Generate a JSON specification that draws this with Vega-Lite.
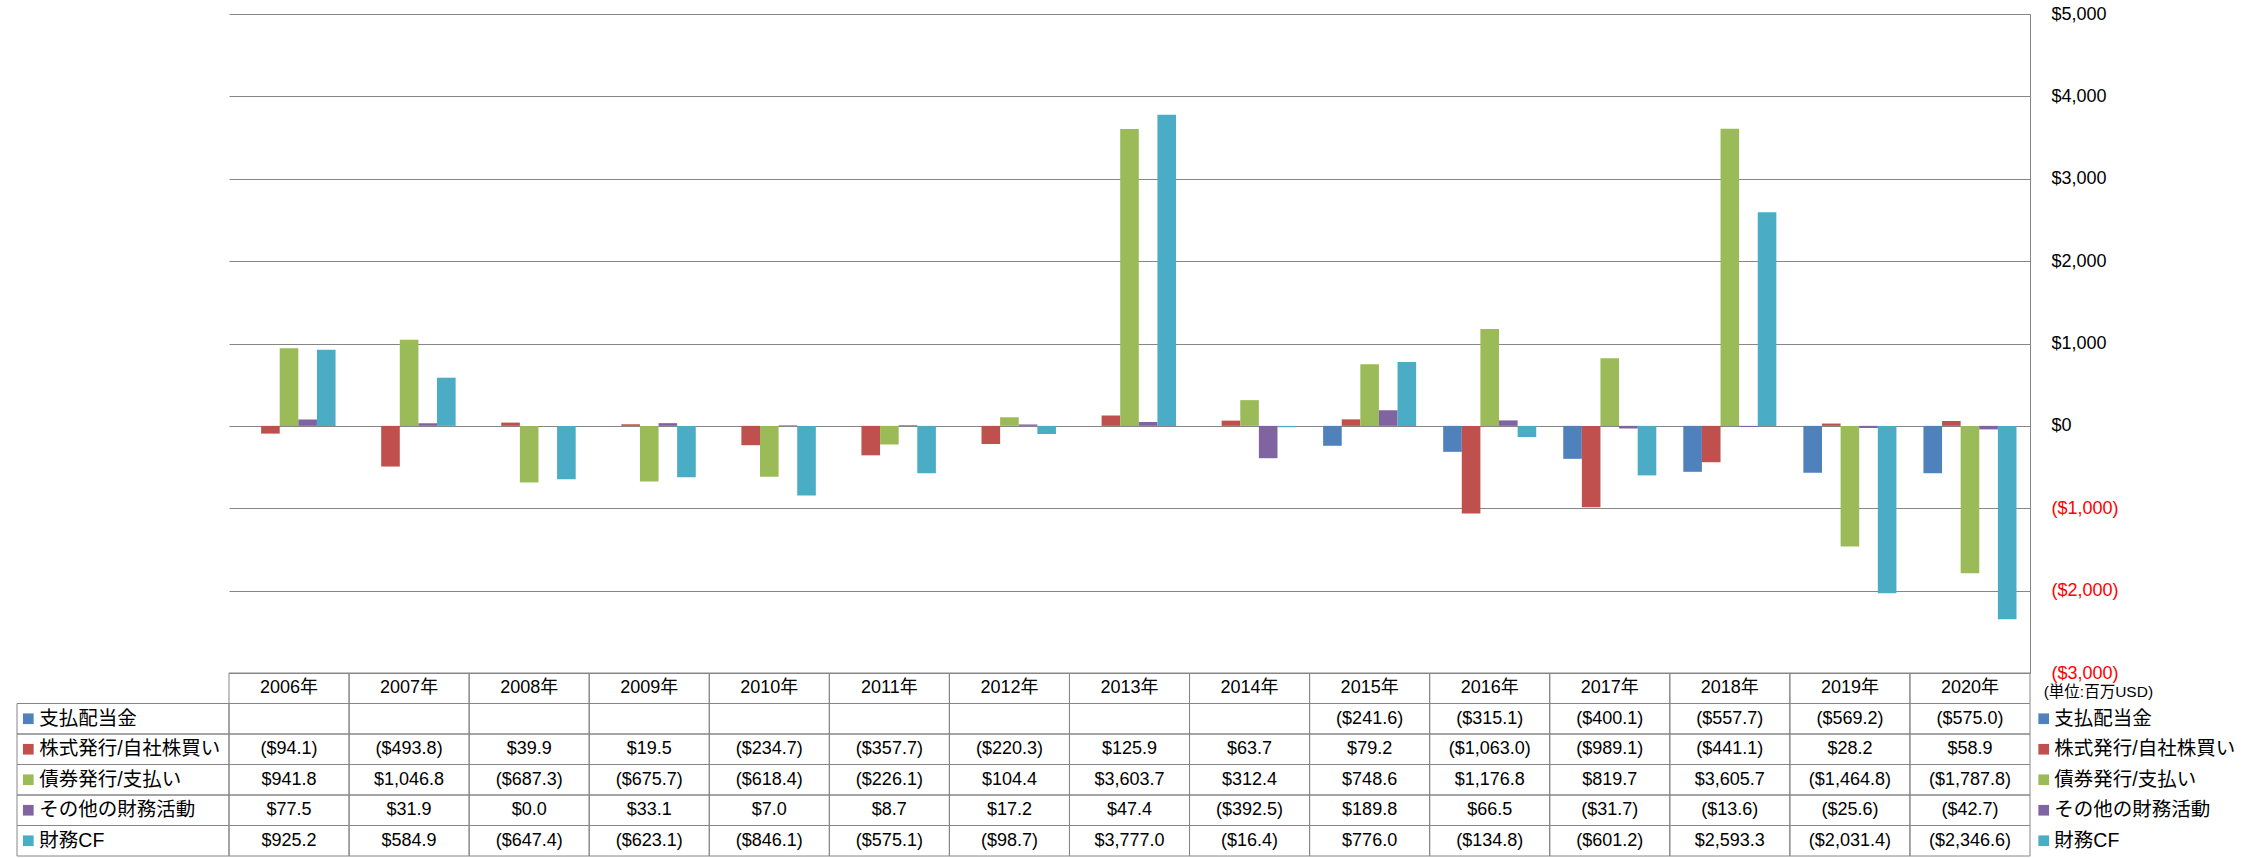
{
  "$schema": "https://vega.github.io/schema/vega-lite/v6.json",
  "background": "white",
  "padding": {"left": 16, "top": 5, "right": 0, "bottom": 0},
  "columns": 3,
  "spacing": 0,
  "bounds": "flush",
  "config": {
    "view": {"stroke": null},
    "font": "Liberation Sans, Noto Sans CJK JP"
  },
  "datasets": {
    "cf": [
      {"year": "2006年", "series": "支払配当金", "value": null},
      {"year": "2007年", "series": "支払配当金", "value": null},
      {"year": "2008年", "series": "支払配当金", "value": null},
      {"year": "2009年", "series": "支払配当金", "value": null},
      {"year": "2010年", "series": "支払配当金", "value": null},
      {"year": "2011年", "series": "支払配当金", "value": null},
      {"year": "2012年", "series": "支払配当金", "value": null},
      {"year": "2013年", "series": "支払配当金", "value": null},
      {"year": "2014年", "series": "支払配当金", "value": null},
      {"year": "2015年", "series": "支払配当金", "value": -241.6},
      {"year": "2016年", "series": "支払配当金", "value": -315.1},
      {"year": "2017年", "series": "支払配当金", "value": -400.1},
      {"year": "2018年", "series": "支払配当金", "value": -557.7},
      {"year": "2019年", "series": "支払配当金", "value": -569.2},
      {"year": "2020年", "series": "支払配当金", "value": -575.0},
      {"year": "2006年", "series": "株式発行/自社株買い", "value": -94.1},
      {"year": "2007年", "series": "株式発行/自社株買い", "value": -493.8},
      {"year": "2008年", "series": "株式発行/自社株買い", "value": 39.9},
      {"year": "2009年", "series": "株式発行/自社株買い", "value": 19.5},
      {"year": "2010年", "series": "株式発行/自社株買い", "value": -234.7},
      {"year": "2011年", "series": "株式発行/自社株買い", "value": -357.7},
      {"year": "2012年", "series": "株式発行/自社株買い", "value": -220.3},
      {"year": "2013年", "series": "株式発行/自社株買い", "value": 125.9},
      {"year": "2014年", "series": "株式発行/自社株買い", "value": 63.7},
      {"year": "2015年", "series": "株式発行/自社株買い", "value": 79.2},
      {"year": "2016年", "series": "株式発行/自社株買い", "value": -1063.0},
      {"year": "2017年", "series": "株式発行/自社株買い", "value": -989.1},
      {"year": "2018年", "series": "株式発行/自社株買い", "value": -441.1},
      {"year": "2019年", "series": "株式発行/自社株買い", "value": 28.2},
      {"year": "2020年", "series": "株式発行/自社株買い", "value": 58.9},
      {"year": "2006年", "series": "債券発行/支払い", "value": 941.8},
      {"year": "2007年", "series": "債券発行/支払い", "value": 1046.8},
      {"year": "2008年", "series": "債券発行/支払い", "value": -687.3},
      {"year": "2009年", "series": "債券発行/支払い", "value": -675.7},
      {"year": "2010年", "series": "債券発行/支払い", "value": -618.4},
      {"year": "2011年", "series": "債券発行/支払い", "value": -226.1},
      {"year": "2012年", "series": "債券発行/支払い", "value": 104.4},
      {"year": "2013年", "series": "債券発行/支払い", "value": 3603.7},
      {"year": "2014年", "series": "債券発行/支払い", "value": 312.4},
      {"year": "2015年", "series": "債券発行/支払い", "value": 748.6},
      {"year": "2016年", "series": "債券発行/支払い", "value": 1176.8},
      {"year": "2017年", "series": "債券発行/支払い", "value": 819.7},
      {"year": "2018年", "series": "債券発行/支払い", "value": 3605.7},
      {"year": "2019年", "series": "債券発行/支払い", "value": -1464.8},
      {"year": "2020年", "series": "債券発行/支払い", "value": -1787.8},
      {"year": "2006年", "series": "その他の財務活動", "value": 77.5},
      {"year": "2007年", "series": "その他の財務活動", "value": 31.9},
      {"year": "2008年", "series": "その他の財務活動", "value": 0.0},
      {"year": "2009年", "series": "その他の財務活動", "value": 33.1},
      {"year": "2010年", "series": "その他の財務活動", "value": 7.0},
      {"year": "2011年", "series": "その他の財務活動", "value": 8.7},
      {"year": "2012年", "series": "その他の財務活動", "value": 17.2},
      {"year": "2013年", "series": "その他の財務活動", "value": 47.4},
      {"year": "2014年", "series": "その他の財務活動", "value": -392.5},
      {"year": "2015年", "series": "その他の財務活動", "value": 189.8},
      {"year": "2016年", "series": "その他の財務活動", "value": 66.5},
      {"year": "2017年", "series": "その他の財務活動", "value": -31.7},
      {"year": "2018年", "series": "その他の財務活動", "value": -13.6},
      {"year": "2019年", "series": "その他の財務活動", "value": -25.6},
      {"year": "2020年", "series": "その他の財務活動", "value": -42.7},
      {"year": "2006年", "series": "財務CF", "value": 925.2},
      {"year": "2007年", "series": "財務CF", "value": 584.9},
      {"year": "2008年", "series": "財務CF", "value": -647.4},
      {"year": "2009年", "series": "財務CF", "value": -623.1},
      {"year": "2010年", "series": "財務CF", "value": -846.1},
      {"year": "2011年", "series": "財務CF", "value": -575.1},
      {"year": "2012年", "series": "財務CF", "value": -98.7},
      {"year": "2013年", "series": "財務CF", "value": 3777.0},
      {"year": "2014年", "series": "財務CF", "value": -16.4},
      {"year": "2015年", "series": "財務CF", "value": 776.0},
      {"year": "2016年", "series": "財務CF", "value": -134.8},
      {"year": "2017年", "series": "財務CF", "value": -601.2},
      {"year": "2018年", "series": "財務CF", "value": 2593.3},
      {"year": "2019年", "series": "財務CF", "value": -2031.4},
      {"year": "2020年", "series": "財務CF", "value": -2346.6}
    ]
  },
  "concat": [
    {
      "width": 212,
      "height": 659,
      "data": {"values": []},
      "mark": "point",
      "encoding": {}
    },
    {
      "width": 1801,
      "height": 659,
      "data": {"name": "cf"},
      "mark": {"type": "bar"},
      "encoding": {
        "x": {"field": "year", "type": "nominal", "scale": {"paddingInner": 0.225, "paddingOuter": 0.1125}, "axis": null},
        "xOffset": {"field": "series", "type": "nominal", "scale": {"domain": ["支払配当金", "株式発行/自社株買い", "債券発行/支払い", "その他の財務活動", "財務CF"], "paddingInner": 0, "paddingOuter": 0}},
        "y": {
          "field": "value",
          "type": "quantitative",
          "scale": {"domain": [-3000, 5000], "nice": false},
          "axis": {
            "orient": "right",
            "values": [-3000, -2000, -1000, 0, 1000, 2000, 3000, 4000, 5000],
            "format": "($,.0f",
            "title": null,
            "grid": true,
            "gridColor": "#868686",
            "gridWidth": 1,
            "gridOpacity": 1,
            "domain": true,
            "domainColor": "#868686",
            "domainWidth": 1,
            "ticks": false,
            "tickSize": 0,
            "labelPadding": 21,
            "labelFontSize": 18,
            "labelFlush": false,
            "labelOverlap": false,
            "labelColor": {"condition": {"test": "datum.value < 0", "value": "#ff0000"}, "value": "#000000"}
          }
        },
        "color": {
          "field": "series",
          "type": "nominal",
          "scale": {"domain": ["支払配当金", "株式発行/自社株買い", "債券発行/支払い", "その他の財務活動", "財務CF"], "range": ["#4F81BD", "#C0504D", "#9BBB59", "#8064A2", "#4BACC6"]},
          "legend": null
        }
      }
    },
    {
      "width": 214,
      "height": 659,
      "data": {"values": []},
      "mark": "point",
      "encoding": {}
    },
    {
      "width": 212,
      "height": 183,
      "data": {"name": "cf"},
      "transform": [{"filter": "datum.year == '2006年'"}],
      "resolve": {"scale": {"x": "independent"}},
      "layer": [
        {
          "mark": {"type": "rect", "filled": false, "stroke": "#868686", "strokeWidth": 1},
          "encoding": {
            "x": {"datum": "cell", "type": "nominal", "scale": {"type": "band", "domain": ["cell"], "paddingInner": 0, "paddingOuter": 0}, "axis": null},
            "y": {"field": "series", "type": "nominal", "scale": {"domain": ["hdr", "支払配当金", "株式発行/自社株買い", "債券発行/支払い", "その他の財務活動", "財務CF"], "paddingInner": 0, "paddingOuter": 0}, "axis": null}
          }
        },
        {
          "mark": {"type": "point", "shape": "square", "filled": true, "opacity": 1, "size": 114, "strokeWidth": 0},
          "encoding": {
            "x": {"datum": "key", "type": "nominal", "scale": {"type": "point", "domain": ["key", "label"], "range": [11.3, 22.3], "padding": 0}, "axis": null},
            "y": {"field": "series", "type": "nominal"},
            "color": {"field": "series", "type": "nominal", "scale": {"domain": ["支払配当金", "株式発行/自社株買い", "債券発行/支払い", "その他の財務活動", "財務CF"], "range": ["#4F81BD", "#C0504D", "#9BBB59", "#8064A2", "#4BACC6"]}, "legend": null}
          }
        },
        {
          "mark": {"type": "text", "align": "left", "baseline": "middle", "fontSize": 19.5, "color": "#000000"},
          "encoding": {
            "x": {"datum": "label", "type": "nominal", "scale": {"type": "point", "domain": ["key", "label"], "range": [11.3, 22.3], "padding": 0}, "axis": null},
            "y": {"field": "series", "type": "nominal"},
            "text": {"field": "series", "type": "nominal"}
          }
        }
      ]
    },
    {
      "width": 1801,
      "height": 183,
      "data": {"name": "cf"},
      "layer": [
        {
          "mark": {"type": "rect", "filled": false, "stroke": "#868686", "strokeWidth": 1},
          "encoding": {
            "x": {"field": "year", "type": "nominal", "scale": {"paddingInner": 0, "paddingOuter": 0}, "axis": null},
            "y": {"field": "series", "type": "nominal", "scale": {"domain": ["hdr", "支払配当金", "株式発行/自社株買い", "債券発行/支払い", "その他の財務活動", "財務CF"], "paddingInner": 0, "paddingOuter": 0}, "axis": null}
          }
        },
        {
          "transform": [{"filter": "datum.series == '財務CF'"}],
          "mark": {"type": "rect", "filled": false, "stroke": "#868686", "strokeWidth": 1},
          "encoding": {
            "x": {"field": "year", "type": "nominal"},
            "y": {"datum": "hdr", "type": "nominal"}
          }
        },
        {
          "transform": [{"filter": "isValid(datum.value)"}],
          "mark": {"type": "text", "baseline": "middle", "fontSize": 18, "color": "#000000"},
          "encoding": {
            "x": {"field": "year", "type": "nominal"},
            "y": {"field": "series", "type": "nominal"},
            "text": {"field": "value", "type": "quantitative", "format": "($,.1f"}
          }
        },
        {
          "transform": [{"filter": "datum.series == '財務CF'"}],
          "mark": {"type": "text", "baseline": "middle", "fontSize": 18, "color": "#000000"},
          "encoding": {
            "x": {"field": "year", "type": "nominal"},
            "y": {"datum": "hdr", "type": "nominal"},
            "text": {"field": "year", "type": "nominal"}
          }
        }
      ]
    },
    {
      "width": 214,
      "height": 183,
      "layer": [
        {
          "data": {"name": "cf"},
          "transform": [{"filter": "datum.year == '2006年'"}],
          "mark": {"type": "point", "shape": "square", "filled": true, "opacity": 1, "size": 114, "strokeWidth": 0},
          "encoding": {
            "x": {"datum": "key", "type": "nominal", "scale": {"type": "point", "domain": ["key", "label"], "range": [13.7, 24.3], "padding": 0}, "axis": null},
            "y": {"field": "series", "type": "nominal", "scale": {"domain": ["hdr", "支払配当金", "株式発行/自社株買い", "債券発行/支払い", "その他の財務活動", "財務CF"], "paddingInner": 0, "paddingOuter": 0}, "axis": null},
            "color": {"field": "series", "type": "nominal", "scale": {"domain": ["支払配当金", "株式発行/自社株買い", "債券発行/支払い", "その他の財務活動", "財務CF"], "range": ["#4F81BD", "#C0504D", "#9BBB59", "#8064A2", "#4BACC6"]}, "legend": null}
          }
        },
        {
          "data": {"name": "cf"},
          "transform": [{"filter": "datum.year == '2006年'"}],
          "mark": {"type": "text", "align": "left", "baseline": "middle", "fontSize": 19.5, "color": "#000000"},
          "encoding": {
            "x": {"datum": "label", "type": "nominal"},
            "y": {"field": "series", "type": "nominal"},
            "text": {"field": "series", "type": "nominal"}
          }
        },
        {
          "data": {"values": [{"unit": "(単位:百万USD)"}]},
          "mark": {"type": "text", "align": "left", "baseline": "middle", "fontSize": 15.5, "dy": 4, "color": "#000000"},
          "encoding": {
            "x": {"datum": "key", "type": "nominal"},
            "y": {"datum": "hdr", "type": "nominal"},
            "text": {"field": "unit", "type": "nominal"}
          }
        }
      ]
    }
  ]
}
